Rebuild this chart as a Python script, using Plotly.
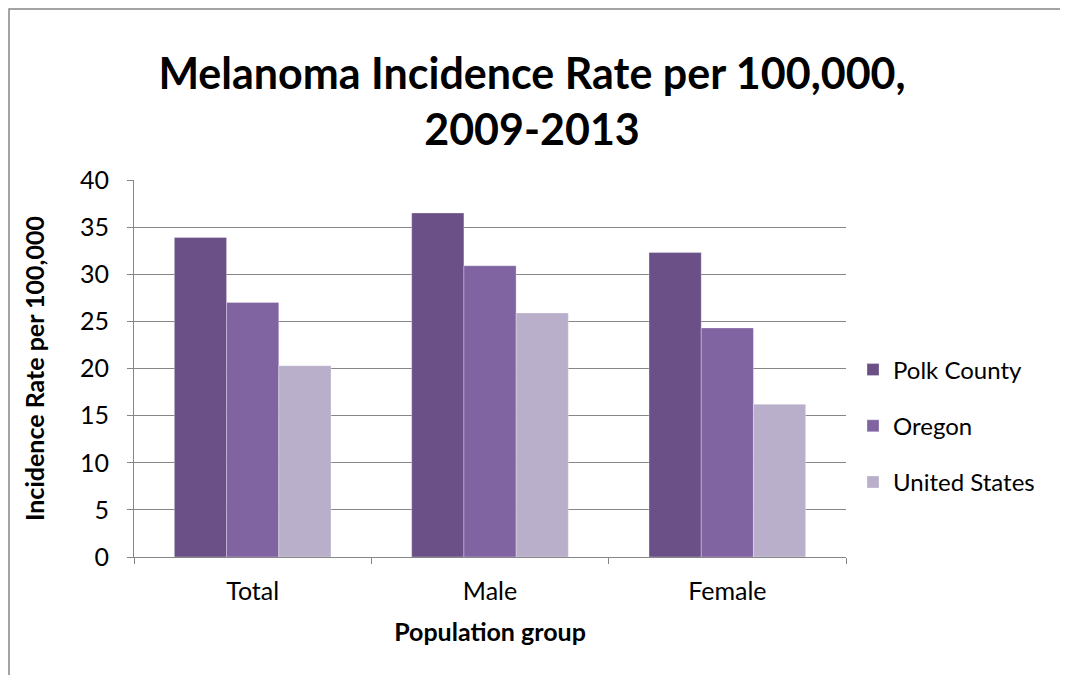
import plotly.graph_objects as go

categories = ["Total", "Male", "Female"]
series_names = ["Polk County", "Oregon", "United States"]
polk = [33.9, 36.5, 32.3]
oregon = [27.0, 30.9, 24.3]
us = [20.3, 25.9, 16.2]
colors = ["#6A5087", "#8064A2", "#B9AFCB"]
y_ticks = [0, 5, 10, 15, 20, 25, 30, 35, 40]

FONT = "Lato"

fig = go.Figure()
for name, vals, col in zip(series_names, [polk, oregon, us], colors):
    fig.add_trace(go.Bar(
        x=categories, y=vals, name=name, legendgroup=name,
        marker=dict(color=col, line=dict(color="rgba(255,255,255,0.6)", width=0.5)),
    ))

# page has an 8px body offset; plot area is placed at x 134-846, y 180-557
fig.update_layout(
    width=1060, height=667,
    margin=dict(l=126, r=222, t=172, b=118),
    paper_bgcolor="white", plot_bgcolor="white",
    barmode="group", bargap=0.34, bargroupgap=0,
    font=dict(family=FONT, color="black", size=25),
    title=dict(
        text="<b>Melanoma Incidence Rate per 100,000,<br>2009-2013</b>",
        x=(532 - 8) / 1060, xanchor="center", xref="container",
        y=1 - 81 / 667, yanchor="middle", yref="container",
        font=dict(family=FONT, size=43, color="black"),
    ),
    legend=dict(
        x=(853 - 134) / 712, y=(557 - 426) / 377, xanchor="left", yanchor="middle",
        font=dict(family=FONT, size=24, color="black"),
        tracegroupgap=22, itemwidth=30,
    ),
    xaxis=dict(
        showgrid=False, showline=True, linecolor="#868686", linewidth=1,
        ticks="outside", tickson="boundaries", ticklen=6, tickcolor="#868686",
        tickfont=dict(size=25), ticklabelstandoff=12,
        title=dict(text="<b>Population group</b>", font=dict(size=25), standoff=19),
    ),
    yaxis=dict(
        range=[0, 40], tickvals=y_ticks, showgrid=True, gridcolor="#868686", gridwidth=1,
        showline=True, linecolor="#868686", linewidth=1,
        ticks="outside", ticklen=6, tickcolor="#868686",
        tickfont=dict(size=25), zeroline=False, ticklabelstandoff=13,
        title=dict(text="<b>Incidence Rate per 100,000</b>", font=dict(size=25), standoff=28),
    ),
    shapes=[dict(
        type="rect", xref="paper", yref="paper",
        x0=(9 - 134) / 712, x1=(1066 - 134) / 712,
        y0=(557 - 690) / 377, y1=(557 - 9) / 377,
        line=dict(color="#868686", width=1.5), fillcolor="rgba(0,0,0,0)", layer="below",
    )],
)

fig.write_html("out.html")
